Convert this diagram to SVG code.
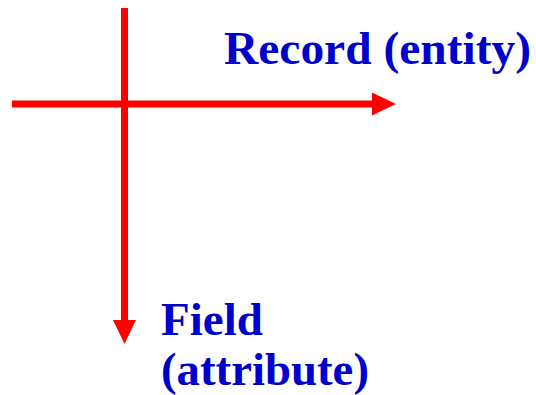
<svg xmlns="http://www.w3.org/2000/svg" width="536" height="395" viewBox="0 0 536 395">
  <style>
    .axis { stroke: #FF0000; stroke-width: 7; fill: none; }
    .label { font-family: "Liberation Serif", "Times New Roman", serif; font-weight: bold; font-size: 47px; fill: #0000CC; }
  </style>
  <defs>
    <marker id="head" viewBox="0 0 24 23" markerWidth="24" markerHeight="23" refX="0" refY="11.5" orient="auto" markerUnits="userSpaceOnUse">
      <polygon points="0,0 24,11.5 0,23" fill="#FF0000"/>
    </marker>
  </defs>
  <rect width="536" height="395" fill="#FFFFFF"/>
  <g id="connectors">
    <line class="axis" x1="12" y1="104" x2="372" y2="104" marker-end="url(#head)"/>
    <line class="axis" x1="124.5" y1="8" x2="124.5" y2="320" marker-end="url(#head)"/>
  </g>
  <g id="record">
    <text class="label" x="224" y="64" textLength="307" lengthAdjust="spacingAndGlyphs">Record (entity)</text>
  </g>
  <g id="field">
    <text class="label" x="161" y="335">Field</text>
    <text class="label" x="161" y="385" textLength="208" lengthAdjust="spacingAndGlyphs">(attribute)</text>
  </g>
</svg>
